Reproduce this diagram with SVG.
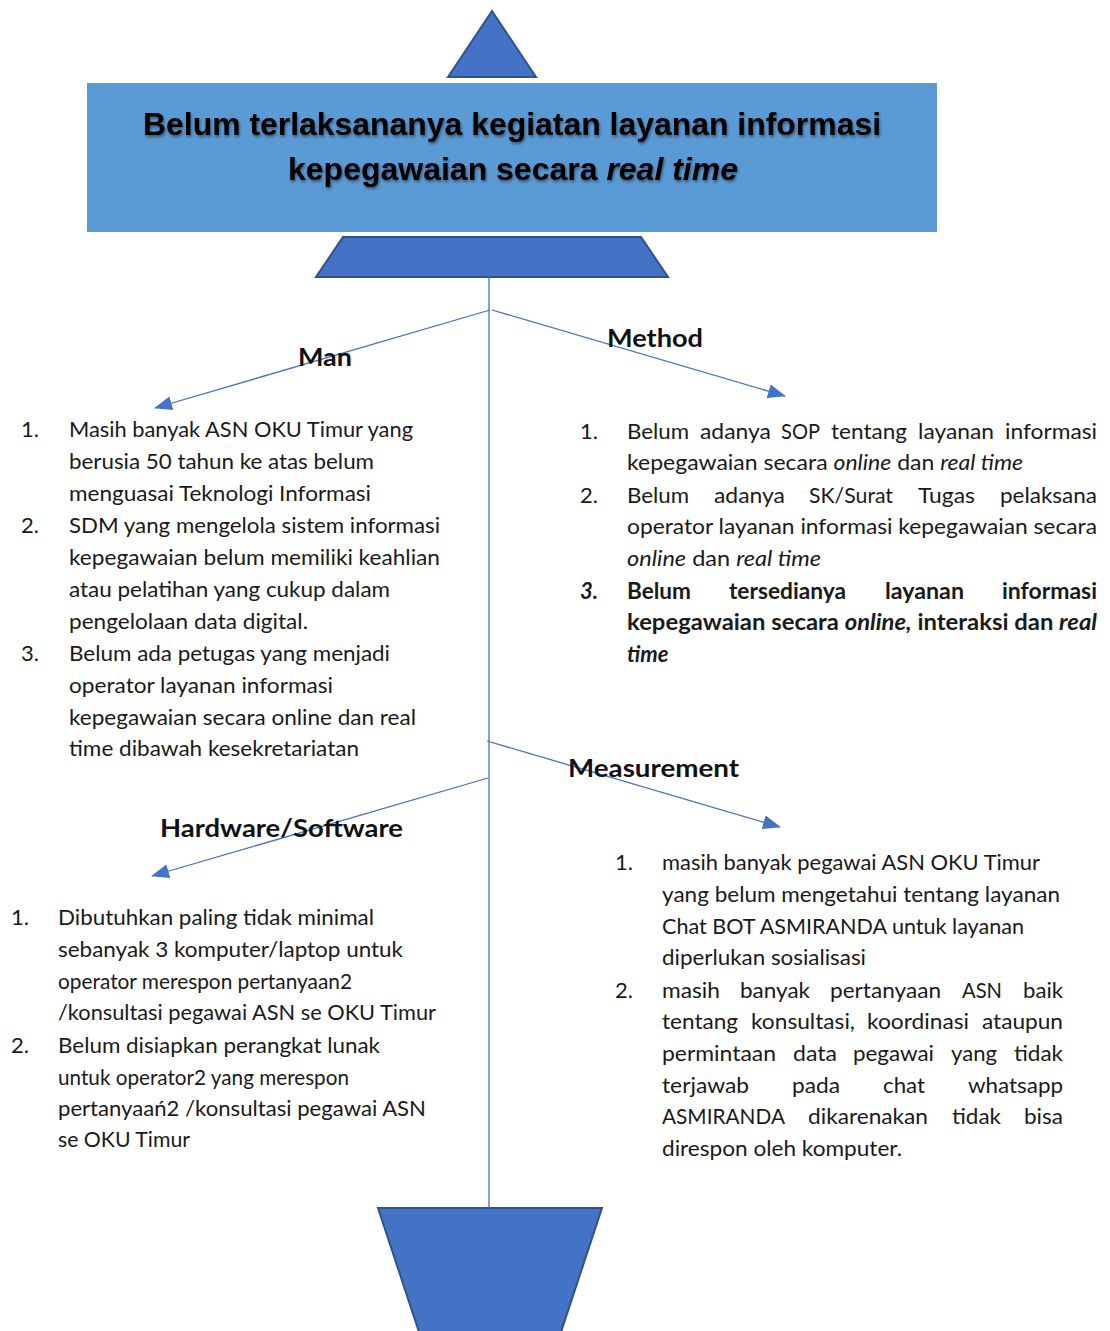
<svg xmlns="http://www.w3.org/2000/svg" width="1110" height="1331" viewBox="0 0 1110 1331">
<style>
.shape{fill:#4472C4;stroke:#2F528F;stroke-width:2}
.conn{stroke:#4472C4;stroke-width:1.3;fill:none}
.t{font-family:Lato,"Open Sans","Liberation Sans",sans-serif;font-size:22px;fill:#1a1a1a}
.b{font-weight:bold}
.i{font-style:italic}
.lbl{font-family:Lato,"Open Sans","Liberation Sans",sans-serif;font-size:25px;font-weight:bold;fill:#111}
.title{font-family:"Liberation Sans",Arial,sans-serif;font-size:32px;font-weight:bold;fill:#000}
</style>
<defs>
<marker id="arr" markerUnits="userSpaceOnUse" markerWidth="18" markerHeight="14" refX="17" refY="7" orient="auto">
<path d="M0,0 L18,7 L0,14 z" fill="#4472C4"/>
</marker>
<filter id="sh" x="-5%" y="-20%" width="110%" height="150%">
<feDropShadow dx="1" dy="2" stdDeviation="1.5" flood-color="#000" flood-opacity="0.45"/>
</filter>
</defs>

<g id="top-triangle"><polygon class="shape" points="492,11 448,77 536,77"/></g>

<g id="problem">
<rect x="87" y="83" width="850" height="149" fill="#5B9BD5"/>
<g filter="url(#sh)">
<text class="title" x="512" y="135" text-anchor="middle" textLength="738" lengthAdjust="spacingAndGlyphs">Belum terlaksananya kegiatan layanan informasi</text>
<text class="title" x="513" y="180" text-anchor="middle" textLength="450" lengthAdjust="spacingAndGlyphs">kepegawaian secara <tspan font-style="italic">real time</tspan></text>
</g>
</g>

<g id="head-trapezoid"><polygon class="shape" points="343,237 641,237 668,277 316,277"/></g>
<g id="tail-trapezoid"><polygon class="shape" points="378,1208 602,1208 560,1335 420,1335"/></g>

<g id="connectors">
<line class="conn" x1="489" y1="277" x2="489" y2="1208"/>
<line class="conn" x1="490" y1="310" x2="155" y2="408" marker-end="url(#arr)"/>
<line class="conn" x1="492" y1="310" x2="785" y2="396" marker-end="url(#arr)"/>
<line class="conn" x1="487" y1="741" x2="780" y2="827" marker-end="url(#arr)"/>
<line class="conn" x1="488" y1="778" x2="152" y2="876" marker-end="url(#arr)"/>
</g>

<g id="man">
<text class="lbl" x="298" y="366" textLength="54" lengthAdjust="spacingAndGlyphs">Man</text>
<text class="t" x="21" y="437">1.</text>
<text class="t" x="69" y="437" textLength="344" lengthAdjust="spacingAndGlyphs">Masih banyak ASN OKU Timur yang</text>
<text class="t" x="69" y="469" textLength="305" lengthAdjust="spacingAndGlyphs">berusia 50 tahun ke atas belum</text>
<text class="t" x="69" y="501" textLength="302" lengthAdjust="spacingAndGlyphs">menguasai Teknologi Informasi</text>
<text class="t" x="21" y="533">2.</text>
<text class="t" x="69" y="533" textLength="371" lengthAdjust="spacingAndGlyphs">SDM yang mengelola sistem informasi</text>
<text class="t" x="69" y="565" textLength="371" lengthAdjust="spacingAndGlyphs">kepegawaian belum memiliki keahlian</text>
<text class="t" x="69" y="597" textLength="321" lengthAdjust="spacingAndGlyphs">atau pelatihan yang cukup dalam</text>
<text class="t" x="69" y="629" textLength="239" lengthAdjust="spacingAndGlyphs">pengelolaan data digital.</text>
<text class="t" x="21" y="661">3.</text>
<text class="t" x="69" y="661" textLength="321" lengthAdjust="spacingAndGlyphs">Belum ada petugas yang menjadi</text>
<text class="t" x="69" y="693" textLength="264" lengthAdjust="spacingAndGlyphs">operator layanan informasi</text>
<text class="t" x="69" y="725" textLength="347" lengthAdjust="spacingAndGlyphs">kepegawaian secara online dan real</text>
<text class="t" x="69" y="756" textLength="290" lengthAdjust="spacingAndGlyphs">time dibawah kesekretariatan</text>
</g>

<g id="method">
<text class="lbl" x="607" y="347" textLength="96" lengthAdjust="spacingAndGlyphs">Method</text>
<text class="t" x="580" y="439">1.</text>
<text class="t" x="627" y="439" textLength="62" lengthAdjust="spacingAndGlyphs">Belum</text>
<text class="t" x="700" y="439" textLength="71" lengthAdjust="spacingAndGlyphs">adanya</text>
<text class="t" x="781" y="439" textLength="39" lengthAdjust="spacingAndGlyphs">SOP</text>
<text class="t" x="831" y="439" textLength="76" lengthAdjust="spacingAndGlyphs">tentang</text>
<text class="t" x="918" y="439" textLength="76" lengthAdjust="spacingAndGlyphs">layanan</text>
<text class="t" x="1005" y="439" textLength="92" lengthAdjust="spacingAndGlyphs">informasi</text>
<text class="t" x="627" y="470" textLength="396" lengthAdjust="spacingAndGlyphs">kepegawaian secara <tspan class="i">online</tspan> dan <tspan class="i">real time</tspan></text>
<text class="t" x="580" y="503">2.</text>
<text class="t" x="627" y="503" textLength="62" lengthAdjust="spacingAndGlyphs">Belum</text>
<text class="t" x="714" y="503" textLength="71" lengthAdjust="spacingAndGlyphs">adanya</text>
<text class="t" x="809" y="503" textLength="84" lengthAdjust="spacingAndGlyphs">SK/Surat</text>
<text class="t" x="918" y="503" textLength="57" lengthAdjust="spacingAndGlyphs">Tugas</text>
<text class="t" x="1000" y="503" textLength="97" lengthAdjust="spacingAndGlyphs">pelaksana</text>
<text class="t" x="627" y="534" textLength="470" lengthAdjust="spacingAndGlyphs">operator layanan informasi kepegawaian secara</text>
<text class="t" x="627" y="566" textLength="194" lengthAdjust="spacingAndGlyphs"><tspan class="i">online</tspan> dan <tspan class="i">real time</tspan></text>
<text class="t b i" x="580" y="599">3.</text>
<text class="t b" x="627" y="599" textLength="64" lengthAdjust="spacingAndGlyphs">Belum</text>
<text class="t b" x="729" y="599" textLength="117" lengthAdjust="spacingAndGlyphs">tersedianya</text>
<text class="t b" x="885" y="599" textLength="79" lengthAdjust="spacingAndGlyphs">layanan</text>
<text class="t b" x="1002" y="599" textLength="95" lengthAdjust="spacingAndGlyphs">informasi</text>
<text class="t b" x="627" y="630" textLength="470" lengthAdjust="spacingAndGlyphs">kepegawaian secara <tspan class="i">online,</tspan> interaksi dan <tspan class="i">real</tspan></text>
<text class="t b i" x="627" y="662">time</text>
</g>

<g id="measurement">
<text class="lbl" x="568" y="777" textLength="171" lengthAdjust="spacingAndGlyphs">Measurement</text>
<text class="t" x="615" y="870">1.</text>
<text class="t" x="662" y="870" textLength="378" lengthAdjust="spacingAndGlyphs">masih banyak pegawai ASN OKU Timur</text>
<text class="t" x="662" y="902" textLength="398" lengthAdjust="spacingAndGlyphs">yang belum mengetahui tentang layanan</text>
<text class="t" x="662" y="934" textLength="362" lengthAdjust="spacingAndGlyphs">Chat BOT ASMIRANDA untuk layanan</text>
<text class="t" x="662" y="965" textLength="204" lengthAdjust="spacingAndGlyphs">diperlukan sosialisasi</text>
<text class="t" x="615" y="998">2.</text>
<text class="t" x="662" y="998" textLength="58" lengthAdjust="spacingAndGlyphs">masih</text>
<text class="t" x="740" y="998" textLength="70" lengthAdjust="spacingAndGlyphs">banyak</text>
<text class="t" x="830" y="998" textLength="111" lengthAdjust="spacingAndGlyphs">pertanyaan</text>
<text class="t" x="962" y="998" textLength="40" lengthAdjust="spacingAndGlyphs">ASN</text>
<text class="t" x="1023" y="998" textLength="40" lengthAdjust="spacingAndGlyphs">baik</text>
<text class="t" x="662" y="1029" textLength="76" lengthAdjust="spacingAndGlyphs">tentang</text>
<text class="t" x="751" y="1029" textLength="104" lengthAdjust="spacingAndGlyphs">konsultasi,</text>
<text class="t" x="867" y="1029" textLength="102" lengthAdjust="spacingAndGlyphs">koordinasi</text>
<text class="t" x="982" y="1029" textLength="81" lengthAdjust="spacingAndGlyphs">ataupun</text>
<text class="t" x="662" y="1061" textLength="114" lengthAdjust="spacingAndGlyphs">permintaan</text>
<text class="t" x="793" y="1061" textLength="44" lengthAdjust="spacingAndGlyphs">data</text>
<text class="t" x="853" y="1061" textLength="81" lengthAdjust="spacingAndGlyphs">pegawai</text>
<text class="t" x="951" y="1061" textLength="46" lengthAdjust="spacingAndGlyphs">yang</text>
<text class="t" x="1014" y="1061" textLength="49" lengthAdjust="spacingAndGlyphs">tidak</text>
<text class="t" x="662" y="1093" textLength="87" lengthAdjust="spacingAndGlyphs">terjawab</text>
<text class="t" x="792" y="1093" textLength="48" lengthAdjust="spacingAndGlyphs">pada</text>
<text class="t" x="883" y="1093" textLength="42" lengthAdjust="spacingAndGlyphs">chat</text>
<text class="t" x="968" y="1093" textLength="95" lengthAdjust="spacingAndGlyphs">whatsapp</text>
<text class="t" x="662" y="1124" textLength="123" lengthAdjust="spacingAndGlyphs">ASMIRANDA</text>
<text class="t" x="808" y="1124" textLength="120" lengthAdjust="spacingAndGlyphs">dikarenakan</text>
<text class="t" x="952" y="1124" textLength="49" lengthAdjust="spacingAndGlyphs">tidak</text>
<text class="t" x="1024" y="1124" textLength="39" lengthAdjust="spacingAndGlyphs">bisa</text>
<text class="t" x="662" y="1156" textLength="240" lengthAdjust="spacingAndGlyphs">direspon oleh komputer.</text>
</g>

<g id="hardware-software">
<text class="lbl" x="160" y="837" textLength="243" lengthAdjust="spacingAndGlyphs">Hardware/Software</text>
<text class="t" x="11" y="925">1.</text>
<text class="t" x="58" y="925" textLength="316" lengthAdjust="spacingAndGlyphs">Dibutuhkan paling tidak minimal</text>
<text class="t" x="58" y="957" textLength="345" lengthAdjust="spacingAndGlyphs">sebanyak 3 komputer/laptop untuk</text>
<text class="t" x="58" y="989" textLength="294" lengthAdjust="spacingAndGlyphs">operator merespon pertanyaan2</text>
<text class="t" x="58" y="1020" textLength="378" lengthAdjust="spacingAndGlyphs">/konsultasi pegawai ASN se OKU Timur</text>
<text class="t" x="11" y="1053">2.</text>
<text class="t" x="58" y="1053" textLength="322" lengthAdjust="spacingAndGlyphs">Belum disiapkan perangkat lunak</text>
<text class="t" x="58" y="1085" textLength="291" lengthAdjust="spacingAndGlyphs">untuk operator2 yang merespon</text>
<text class="t" x="58" y="1116" textLength="368" lengthAdjust="spacingAndGlyphs">pertanyaań2 /konsultasi pegawai ASN</text>
<text class="t" x="58" y="1147" textLength="132" lengthAdjust="spacingAndGlyphs">se OKU Timur</text>
</g>
</svg>
